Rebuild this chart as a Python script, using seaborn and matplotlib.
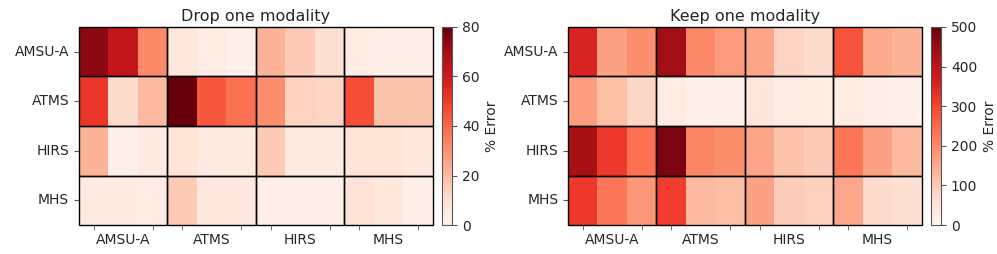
# Drop/keep one modality heatmaps (% error)
import matplotlib
matplotlib.use('Agg')
import matplotlib.pyplot as plt
import matplotlib.patches as patches
import numpy as np
import seaborn as sns

sns.set_style('white')
plt.rcParams['font.family'] = ['DejaVu Sans']

# sensor rows / column groups (3 columns per group)
sensors = ['AMSU-A', 'ATMS', 'HIRS', 'MHS']

# % error, drop one modality (rows = sensor, 12 columns = 4 groups x 3)
drop_amsua = [74, 62, 32,  7, 4, 2,  22, 16, 10,  4, 3, 3]
drop_atms  = [51, 11, 20,  80, 44, 38,  31, 14, 13,  46, 18, 18]
drop_hirs  = [22, 2, 5,  8, 5, 5,  16, 5, 5,  8, 8, 6]
drop_mhs   = [5, 5, 4,  16, 6, 6,  3, 3, 3,  9, 7, 3]

# % error, keep one modality
keep_amsua = [355, 165, 195,  440, 200, 175,  160, 85, 70,  280, 150, 135]
keep_atms  = [170, 120, 80,  30, 15, 15,  45, 30, 28,  28, 18, 12]
keep_hirs  = [430, 315, 240,  480, 205, 195,  160, 115, 100,  230, 165, 125]
keep_mhs   = [315, 230, 180,  310, 125, 120,  165, 95, 90,  155, 72, 62]

drop = np.array([drop_amsua, drop_atms, drop_hirs, drop_mhs])
keep = np.array([keep_amsua, keep_atms, keep_hirs, keep_mhs])

fig = plt.figure(figsize=(9.97, 2.54), dpi=100)

panels = [
    (drop, 'Drop one modality', 80, [0.0792, 0.114, 0.355, 0.780], [0.4435, 0.114, 0.0100, 0.780]),
    (keep, 'Keep one modality', 500, [0.5697, 0.114, 0.355, 0.780], [0.9340, 0.114, 0.0100, 0.780]),
]

for data, title, vmax, pos, cpos in panels:
    ax = fig.add_axes(pos)
    cax = fig.add_axes(cpos)
    sns.heatmap(data, cmap='Reds', vmin=0, vmax=vmax, ax=ax, cbar_ax=cax,
                cbar_kws={'label': '% Error'})

    # black boxes around each sensor block
    for r in range(4):
        for g in range(4):
            ax.add_patch(patches.Rectangle((g * 3, r), 3, 1, fill=False,
                                           edgecolor='black', lw=1.0, clip_on=False))

    # labels in the middle of each group, small ticks at outer columns
    ax.set_xticks([1.5, 4.5, 7.5, 10.5])
    ax.set_xticklabels(sensors, rotation=0, fontsize=10)
    ax.set_xticks([0.5, 2.5, 3.5, 5.5, 6.5, 8.5, 9.5, 11.5], minor=True)
    ax.tick_params(axis='x', which='major', length=0, pad=6)
    ax.tick_params(axis='x', which='minor', length=3.5, color='#555555', bottom=True)
    ax.set_yticks([0.5, 1.5, 2.5, 3.5])
    ax.set_yticklabels(sensors, rotation=0, fontsize=10)
    ax.tick_params(axis='y', length=3.5, color='#555555', left=True)
    ax.set_title(title, fontsize=11.5, pad=4)

    cbar = ax.collections[0].colorbar
    cbar.set_ticks(np.linspace(0, vmax, 5 if vmax == 80 else 6))
    cbar.outline.set_linewidth(0.8)
    cbar.outline.set_edgecolor('#555555')
    cax.tick_params(labelsize=10, length=3.5, color='#555555')
    cax.set_ylabel('% Error', fontsize=10)

fig.savefig('out.png', dpi=100)
